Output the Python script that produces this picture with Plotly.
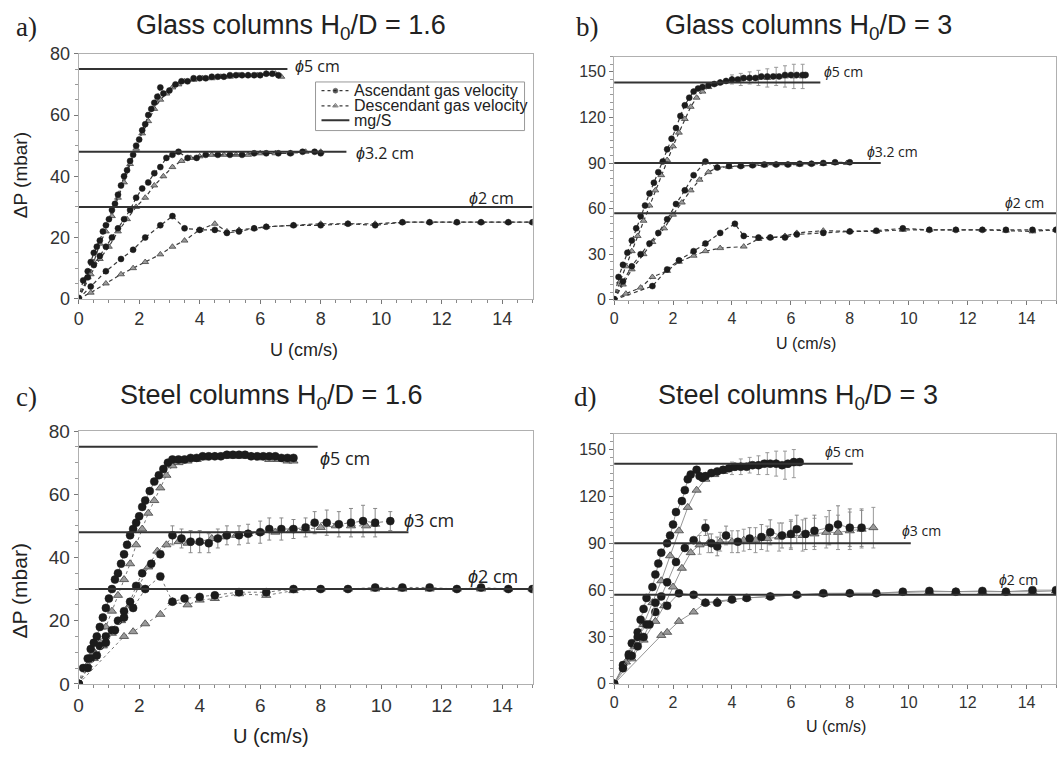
import plotly.graph_objects as go

# ---------------- DATA ----------------
# Panel a) Glass columns H0/D = 1.6
a_d5_up_x = [0,0.15,0.3,0.4,0.5,0.6,0.7,0.8,0.9,1.0,1.1,1.2,1.3,1.4,1.5,1.6,1.7,1.8,1.9,2.0,2.1,2.2,2.3,2.4,2.5,2.6,2.7,2.8,3.0,3.2,3.4,3.6,3.8,4.0,4.2,4.4,4.6,4.8,5.0,5.2,5.4,5.6,5.8,6.0,6.2,6.4,6.6]
a_d5_up_y = [0,6,9,12,15,17,19,22,24,26,29,31,34,37,40,42,45,47,50,52,55,57,60,62,64,66,69,67,68,70,71,71,72,72,72,72.5,72.5,72.5,73,73,73,73,73,73,73.5,73.5,73]
a_d5_dn_x = [0,0.3,0.5,0.7,0.9,1.1,1.3,1.5,1.7,1.9,2.1,2.3,2.5,2.7,2.9,3.1,3.3,3.5,3.8,4.1,4.4,4.7,5.0,5.3,5.6,5.9,6.2,6.5,6.7]
a_d5_dn_y = [0,7,12,18,22,27,33,38,44,49,54,58,62,65,67,69,70,71,71.5,72,72,72.5,72.5,73,73,73,73.5,73.5,72.5]
a_d3_up_x = [0,0.3,0.5,0.7,0.9,1.1,1.3,1.5,1.7,1.9,2.1,2.3,2.5,2.7,2.9,3.1,3.3,3.6,3.9,4.2,4.6,5.0,5.4,5.8,6.2,6.6,7.0,7.4,7.8,8.0]
a_d3_up_y = [0,7,11,14,17,20,23,26,29,33,36,38,41,43,46,47,48,46,46,47,47,47,47,47.5,47.5,47.5,47.5,48,48,47.5]
a_d3_dn_x = [0,0.4,0.7,1.0,1.3,1.6,1.9,2.2,2.5,2.8,3.1,3.4,3.7,4.0,4.4,4.8,5.2,5.6,6.0,6.5,7.0,7.5,8.0]
a_d3_dn_y = [0,8,13,17,22,26,30,33,37,40,43,45,46,46.5,47,47,47,47,47.5,47.5,47.5,48,48]
a_d2_up_x = [0,0.4,0.9,1.4,1.8,2.2,2.7,3.1,3.5,4.0,4.5,4.9,5.3,5.8,6.2,7.1,8.0,8.9,9.8,10.7,11.6,12.5,13.3,14.2,15.0]
a_d2_up_y = [0,4,9,13,16,20,24,27,23,22.5,22.5,21.5,22,23,23.5,24,24,24.5,24,25,25,25,25,25,25]
a_d2_dn_x = [0,0.4,0.9,1.4,1.8,2.2,2.7,3.1,3.5,4.0,4.5,4.9,5.3,5.8,6.2,7.1,8.0,8.9,9.8,10.7,11.6,12.5,13.3,14.2,15.0]
a_d2_dn_y = [0,2,5,8,10,12,14.5,17,19,22.5,24.5,22,22.5,23,23.5,24,24.5,24.5,24.5,25,25,25,25,25,25]
a_mgS = [75, 48, 30]
a_mgS_xend = [6.9, 8.85, 15]

# Panel b) Glass columns H0/D = 3
b_d5_up_x = [0,0.15,0.3,0.45,0.6,0.75,0.9,1.05,1.2,1.35,1.5,1.65,1.8,1.95,2.1,2.25,2.4,2.55,2.7,2.85,3.0,3.2,3.4,3.6,3.8,4.0,4.2,4.4,4.6,4.8,5.0,5.2,5.4,5.6,5.8,6.0,6.2,6.4,6.5]
b_d5_up_y = [0,15,23,31,39,47,55,62,70,77,84,91,99,106,113,121,128,133,137,139,140,141,142,143,144,145,145,146,146,146,147,147,147,147,148,148,148,148,148]
b_d5_dn_x = [0,0.2,0.4,0.6,0.8,1.0,1.2,1.4,1.6,1.8,2.0,2.2,2.4,2.6,2.8,3.0,3.2,3.4,3.6,3.8,4.0,4.3,4.6,4.9,5.2,5.5,5.8,6.1,6.4]
b_d5_dn_y = [0,12,22,32,42,52,62,72,82,92,101,110,119,127,133,137,140,142,143,144,145,145,146,146,146,147,147,147,147]
b_d5_dn_err = [0,0,0,0,0,0,0,0,0,0,0,0,0,0,0,0,0,0,0,0,3,4,4,5,6,6,7,8,8]
b_d3_up_x = [0,0.3,0.6,0.9,1.2,1.5,1.8,2.1,2.4,2.7,3.1,3.5,3.9,4.3,4.7,5.1,5.5,5.9,6.3,6.7,7.1,7.5,8.0]
b_d3_up_y = [0,12,22,30,37,44,53,63,72,82,91,87,88,88,88.5,89,89,89,89.5,89.5,90,90.5,90.5]
b_d3_dn_x = [0,0.3,0.6,1.0,1.3,1.7,2.0,2.3,2.6,2.9,3.2,3.5,3.9,4.3,4.7,5.1,5.5,5.9,6.3,6.7,7.1,7.5,7.9]
b_d3_dn_y = [0,10,20,30,38,47,56,64,72,79,84,87,87.5,88,88.5,88.5,89,89,89,89.5,89.5,90,90]
b_d2_up_x = [0,1.3,1.8,2.2,2.7,3.1,3.6,4.1,4.4,4.9,5.3,5.8,6.2,7.1,8.0,8.9,9.8,10.7,11.6,12.5,13.3,14.2,15]
b_d2_up_y = [0,9,20,26,32,37,44,50,42,41,41,41,43,44,45,45.5,47,46,46,46,46,46,46]
b_d2_dn_x = [0,0.4,0.9,1.3,1.8,2.2,2.7,3.1,3.6,4.4,4.9,5.3,5.8,6.2,7.1,8.0,8.9,9.8,10.7,11.6,12.5,13.3,14.2,15]
b_d2_dn_y = [0,4,8,15,19,25,29,32,34,35,40,41,42,44,45.5,45,45,46,46,46,46,45.5,45,46]
b_mgS = [143, 90, 57]
b_mgS_xend = [7.0, 9.05, 15]

# Panel c) Steel columns H0/D = 1.6
c_d5_up_x = [0,0.15,0.3,0.4,0.5,0.6,0.7,0.8,0.9,1.0,1.1,1.2,1.3,1.4,1.5,1.6,1.7,1.8,1.9,2.0,2.1,2.2,2.35,2.5,2.65,2.8,2.95,3.1,3.3,3.5,3.7,3.9,4.1,4.3,4.5,4.7,4.9,5.1,5.3,5.5,5.7,5.9,6.1,6.3,6.5,6.7,6.9,7.1]
c_d5_up_y = [0,5,8,11,13,15,18,21,24,27,30,33,35,38,41,44,47,49,51,53,56,58,61,64,66,68,70,71,71,71,71.5,71.5,72,72,72,72,72.5,72.5,72.5,72.5,72,72,72,72,72,71.5,71.5,71.5]
c_d5_dn_x = [0,0.3,0.5,0.7,0.9,1.1,1.3,1.5,1.7,1.9,2.1,2.3,2.5,2.7,2.9,3.1,3.3,3.6,3.9,4.2,4.5,4.8,5.1,5.4,5.7,6.0,6.3,6.6,6.9,7.1]
c_d5_dn_y = [0,6,10,13,18,23,28,33,38,44,49,54,58,62,66,69,70,70.5,71,71.5,72,72,72,72,72,71.5,71,71,70.5,70.5]
c_d3_up_x = [0,0.4,0.7,0.9,1.1,1.3,1.5,1.7,1.9,2.1,2.4,2.7,3.1,3.4,3.7,4.0,4.3,4.6,4.9,5.3,5.6,6.0,6.3,6.7,7.1,7.5,7.8,8.2,8.6,9.0,9.4,9.8,10.3]
c_d3_up_y = [0,8,12,15,17,20,23,26,31,35,38,41,47,46,45,45,44.5,46,47,47,47.5,48,49,49,49,49.5,51,51,50.5,51,51.5,51,51.5]
c_d3_up_err = [0,0,0,0,0,0,0,0,0,0,0,0,3,3,3.5,3.5,3,3,3,3,3,3.5,3.5,3.5,3,3,3.5,4,4,4.5,5,4.5,3]
c_d3_dn_x = [0,0.5,0.8,1.1,1.4,1.7,2.0,2.3,2.6,2.9,3.3,3.6,4.0,4.4,4.8,5.2,5.6,6.0,6.5,7.0,7.5,8.0,8.5,9.0,9.5,9.8]
c_d3_dn_y = [0,8,12,16,20,25,31,37,42,44,45,44.5,45,46,46.5,47,47.5,48,48,48.5,49,49.5,50,50,50,50.5]
c_d2_up_x = [0,0.3,0.6,0.9,1.2,1.5,1.8,2.2,2.7,3.1,3.5,4.0,4.5,5.3,6.2,7.1,8.0,8.9,9.8,10.7,11.6,12.5,13.3,14.2,15]
c_d2_up_y = [0,5,9,13,17,21,24,30,34,26,27,27.5,28,29,29,30,30,30,30.5,30.5,30.5,30,30.5,30,30]
c_d2_dn_x = [0,1.5,1.8,2.2,2.7,3.1,3.6,4.0,4.5,5.3,6.2,7.1,8.0,8.9,9.8,10.7,11.6,12.5,13.3,14.2,15]
c_d2_dn_y = [0,15,16.5,19,22,26,25,26.5,27,28.5,28,29.5,30,30,30,30,30,30,30,30,30]
c_mgS = [75, 48, 30]
c_mgS_xend = [7.9, 10.9, 15]

# Panel d) Steel columns H0/D = 3
d_d5_up_x = [0,0.3,0.5,0.6,0.8,0.9,1.0,1.1,1.3,1.4,1.5,1.6,1.8,1.9,2.0,2.1,2.3,2.4,2.5,2.6,2.8,2.9,3.0,3.1,3.3,3.5,3.7,3.9,4.1,4.3,4.5,4.7,4.9,5.1,5.3,5.5,5.7,5.9,6.1,6.3]
d_d5_up_y = [0,12,19,26,33,41,48,55,62,70,77,84,90,95,102,110,117,124,131,134,137,133,132,133,135,136,137,138,139,139,139,140,140,141,141,141,140,141,142,142]
d_d5_dn_x = [0,0.4,0.7,1.0,1.3,1.6,1.9,2.2,2.5,2.8,3.1,3.4,3.7,4.0,4.3,4.6,4.9,5.2,5.5,5.8,6.1]
d_d5_dn_y = [0,14,24,38,52,66,82,98,113,124,131,134,136,138,139,140,140,141,141,140,141]
d_d5_dn_err = [0,0,0,0,0,0,0,0,0,0,0,0,0,4,5,5,6,7,8,9,9]
d_d3_up_x = [0,0.5,0.8,1.1,1.4,1.6,1.8,2.1,2.4,2.7,3.1,3.3,3.5,3.8,4.2,4.6,5.0,5.3,5.7,6.0,6.2,6.5,6.8,7.3,7.6,8.0,8.4]
d_d3_up_y = [0,18,30,38,46,56,65,78,87,92,100,90,88,95,91,93,94,97,95,96,99,96,98,100,102,100,100]
d_d3_up_err = [0,0,0,0,0,0,0,0,0,0,5,6,6,6,7,7,8,8,8,9,9,10,10,11,12,12,12]
d_d3_dn_x = [0,0.6,1.0,1.4,1.7,2.0,2.3,2.6,2.9,3.2,3.6,4.0,4.4,4.8,5.2,5.6,6.0,6.4,6.8,7.2,7.6,8.0,8.4,8.8]
d_d3_dn_y = [0,16,28,40,50,62,74,84,89,90,91,91,92,92,93,94,95,95,96,97,97,98,99,100]
d_d3_dn_err = [0,0,0,0,0,0,0,0,6,6,6,7,7,8,8,9,9,10,10,10,11,12,12,13]
d_d2_up_x = [0,0.3,0.6,0.8,1.0,1.2,1.4,1.8,2.2,2.7,3.1,3.5,4.0,4.5,5.3,6.2,7.1,8.0,8.9,9.8,10.7,11.6,12.5,13.3,14.2,15]
d_d2_up_y = [0,10,18,24,30,38,52,50,58,57,52,52,54,55,56,57,58,58,58,59,59.5,59,59.5,59,60,60]
d_d2_dn_x = [0,1.6,1.8,2.2,2.7,3.1,3.5,4.0,4.5,5.3,6.2,7.1,8.0,8.9,9.8,10.7,11.6,12.5,13.3,14.2,15]
d_d2_dn_y = [0,31,33,40,46,52,53,54,55,56,57,57.5,58,58,58.5,59,59,59,59,59,59.5]
d_mgS = [141, 90, 57]
d_mgS_xend = [8.1, 10.07, 15]

diam_labels_ab = ["5 cm", "3.2 cm", "2 cm"]
diam_labels_cd = ["5 cm", "3 cm", "2 cm"]
panel_titles = ["Glass columns H<sub>0</sub>/D = 1.6", "Glass columns H<sub>0</sub>/D = 3",
                "Steel columns H<sub>0</sub>/D = 1.6", "Steel columns H<sub>0</sub>/D = 3"]
panel_letters = ["a)", "b)", "c)", "d)"]
legend_names = ["Ascendant gas velocity", "Descendant gas velocity", "mg/S"]

# ---------------- FIGURE ----------------
W, H = 1061, 760
def px(x): return x / W
def py(y): return 1 - y / H

fig = go.Figure()
FONT = "Liberation Sans, Arial, sans-serif"
LABFONT = "Open Sans, Liberation Sans, sans-serif"

panels = [
    dict(ax="", xd=[74, 530], yd=[45, 297], yr=[0, 80], dt=20, mdt=5, fs=18, ms=6, style="dash",
         series=[(a_d5_up_x, a_d5_up_y, None, a_d5_dn_x, a_d5_dn_y, None),
                 (a_d3_up_x, a_d3_up_y, None, a_d3_dn_x, a_d3_dn_y, None),
                 (a_d2_up_x, a_d2_up_y, None, a_d2_dn_x, a_d2_dn_y, None)],
         mg=a_mgS, mgx=a_mgS_xend, labs=diam_labels_ab,
         labpos=[(7.1, 76), (9.1, 47.6), (12.85, 33)], labfs=16),
    dict(ax="2", xd=[612, 1056], yd=[48, 298], yr=[0, 160], dt=30, mdt=5, fs=16, ms=6, style="dash",
         series=[(b_d5_up_x, b_d5_up_y, None, b_d5_dn_x, b_d5_dn_y, b_d5_dn_err),
                 (b_d3_up_x, b_d3_up_y, None, b_d3_dn_x, b_d3_dn_y, None),
                 (b_d2_up_x, b_d2_up_y, None, b_d2_dn_x, b_d2_dn_y, None)],
         mg=b_mgS, mgx=b_mgS_xend, labs=diam_labels_ab,
         labpos=[(7.05, 150), (8.5, 97.6), (13.2, 64)], labfs=14),
    dict(ax="3", xd=[74, 530], yd=[433, 693], yr=[0, 80], dt=20, mdt=5, fs=19, ms=8, style="dot",
         series=[(c_d5_up_x, c_d5_up_y, None, c_d5_dn_x, c_d5_dn_y, None),
                 (c_d3_up_x, c_d3_up_y, c_d3_up_err, c_d3_dn_x, c_d3_dn_y, None),
                 (c_d2_up_x, c_d2_up_y, None, c_d2_dn_x, c_d2_dn_y, None)],
         mg=c_mgS, mgx=c_mgS_xend, labs=diam_labels_cd,
         labpos=[(7.9, 71.5), (10.7, 51.7), (12.8, 34)], labfs=18),
    dict(ax="4", xd=[612, 1056], yd=[436, 693], yr=[0, 160], dt=30, mdt=5, fs=16, ms=8, style="solid",
         series=[(d_d5_up_x, d_d5_up_y, None, d_d5_dn_x, d_d5_dn_y, d_d5_dn_err),
                 (d_d3_up_x, d_d3_up_y, d_d3_up_err, d_d3_dn_x, d_d3_dn_y, d_d3_dn_err),
                 (d_d2_up_x, d_d2_up_y, None, d_d2_dn_x, d_d2_dn_y, None)],
         mg=d_mgS, mgx=d_mgS_xend, labs=diam_labels_cd,
         labpos=[(7.1, 148.6), (9.7, 98), (13.0, 67)], labfs=14),
]

DN_MARKER = dict(symbol="triangle-up", color="#9a9a9a", line=dict(color="#444444", width=0.8))
UP_MARKER = dict(symbol="circle", color="#1c1c1c", line=dict(color="#1c1c1c", width=0.5))
MG_LINE = dict(color="#333333", width=2)

annotations = []
for pi, p in enumerate(panels):
    xa, ya = "x" + p["ax"], "y" + p["ax"]
    if p["style"] == "dash":
        lcol, lw, dash = "#3a3a3a", 1.2, "4px,3px"
    elif p["style"] == "dot":
        lcol, lw, dash = "#777777", 1.0, "dot"
    else:
        lcol, lw, dash = "#8a8a8a", 0.9, "solid"
    for si, (ux, uy, ue, dx, dy, de) in enumerate(p["series"]):
        fig.add_trace(go.Scatter(
            x=dx, y=dy, xaxis=xa, yaxis=ya, mode="lines+markers", name=legend_names[1],
            line=dict(color=lcol, width=lw, dash=dash),
            marker=dict(size=p["ms"], **DN_MARKER),
            error_y=dict(type="data", array=de, visible=de is not None,
                         color="#999999", thickness=1, width=2),
        ))
        fig.add_trace(go.Scatter(
            x=ux, y=uy, xaxis=xa, yaxis=ya, mode="lines+markers", name=legend_names[0],
            line=dict(color=lcol, width=lw, dash=dash),
            marker=dict(size=p["ms"], **UP_MARKER),
            error_y=dict(type="data", array=ue, visible=ue is not None,
                         color="#888888", thickness=1, width=2),
        ))
    for m, xe in zip(p["mg"], p["mgx"]):
        fig.add_trace(go.Scatter(
            x=[0, xe], y=[m, m], xaxis=xa, yaxis=ya, mode="lines",
            name=legend_names[2], line=MG_LINE,
        ))
    for lab, (lx, ly) in zip(p["labs"], p["labpos"]):
        annotations.append(dict(
            x=lx, y=ly, xref=xa, yref=ya, text="<i>ϕ</i>" + lab, showarrow=False,
            xanchor="left", yanchor="middle",
            font=dict(family=LABFONT, size=p["labfs"], color="#222")))
    axkw = dict(showline=True, linecolor="#b0b0b0", linewidth=1, mirror=True,
                ticks="outside", tickcolor="#777", ticklen=4, showgrid=False, zeroline=False,
                tickfont=dict(family=FONT, size=p["fs"], color="#333"))
    fig.update_layout(**{
        "xaxis" + p["ax"]: dict(domain=[px(p["xd"][0]), px(p["xd"][1])], range=[0, 15], dtick=2,
                                anchor=ya, minor=dict(dtick=0.5, ticks="outside", ticklen=3, tickcolor="#888"),
                                **axkw),
        "yaxis" + p["ax"]: dict(domain=[py(p["yd"][1]), py(p["yd"][0])], range=p["yr"], dtick=p["dt"],
                                anchor=xa, minor=dict(dtick=p["mdt"], ticks="outside", ticklen=3, tickcolor="#999"),
                                **axkw),
    })

# ---- manual legend (panel a) in a hidden pixel-unit overlay axis ----
LEG = dict(x0=312, x1=522, y0=74, y1=124)
leg_rows = [83, 98.5, 113.5]
fig.update_layout(
    xaxis5=dict(domain=[px(LEG["x0"]), px(LEG["x1"])], range=[LEG["x0"], LEG["x1"]],
                visible=False, fixedrange=True, anchor="y5"),
    yaxis5=dict(domain=[py(LEG["y1"]), py(LEG["y0"])], range=[LEG["y1"], LEG["y0"]],
                visible=False, fixedrange=True, anchor="x5"),
)
leg_styles = [
    dict(mode="lines+markers", line=dict(color="#3a3a3a", width=1.2, dash="3px,3px"), marker=dict(size=5, **UP_MARKER)),
    dict(mode="lines+markers", line=dict(color="#3a3a3a", width=1.2, dash="3px,3px"), marker=dict(size=5, **DN_MARKER)),
    dict(mode="lines", line=MG_LINE),
]
for name, ry, st in zip(legend_names, leg_rows, leg_styles):
    xs = [318, 332, 346] if st["mode"] != "lines" else [318, 346]
    mk = st.get("marker")
    fig.add_trace(go.Scatter(x=xs, y=[ry] * len(xs), xaxis="x5", yaxis="y5", mode=st["mode"],
                             line=st["line"], hoverinfo="skip",
                             marker=(dict(mk, size=[0, mk["size"], 0]) if mk else None)))
    annotations.append(dict(x=349, y=ry, xref="x5", yref="y5", text=name, showarrow=False,
                            xanchor="left", yanchor="middle",
                            font=dict(family=FONT, size=16, color="#222")))

shapes = [dict(type="rect", xref="paper", yref="paper",
               x0=px(LEG["x0"]), x1=px(LEG["x1"]), y0=py(LEG["y1"]), y1=py(LEG["y0"]),
               line=dict(color="#999", width=1), fillcolor="rgba(255,255,255,0)", layer="above")]

# Titles and letters
title_pos = [(287, 17), (807, 17), (267, 398), (797, 398)]
letter_pos = [(22, 17), (585, 17), (22, 398), (583, 398)]
for t, (tx, ty), l, (lx, ly) in zip(panel_titles, title_pos, panel_letters, letter_pos):
    annotations.append(dict(x=px(tx), y=py(ty), xref="paper", yref="paper", text=t, showarrow=False,
                            xanchor="center", yanchor="middle",
                            font=dict(family=FONT, size=27, color="#222")))
    annotations.append(dict(x=px(lx), y=py(ly), xref="paper", yref="paper", text=l, showarrow=False,
                            xanchor="center", yanchor="middle",
                            font=dict(family="Liberation Serif, Times New Roman, serif", size=27, color="#222")))

# Axis titles
xlab_pos = [(300, 350, 18), (805, 343, 16), (267, 747, 20), (835, 737, 16)]
for (x, y, s) in xlab_pos:
    annotations.append(dict(x=px(x), y=py(y), xref="paper", yref="paper", text="U (cm/s)", showarrow=False,
                            xanchor="center", yanchor="middle", font=dict(family=FONT, size=s, color="#222")))
for (x, y, s) in [(15, 170, 19), (15, 597, 21)]:
    annotations.append(dict(x=px(x), y=py(y), xref="paper", yref="paper", text="ΔP (mbar)", showarrow=False,
                            textangle=-90, xanchor="center", yanchor="middle",
                            font=dict(family=FONT, size=s, color="#222")))

fig.update_layout(
    width=W, height=H, margin=dict(l=0, r=0, t=0, b=0),
    paper_bgcolor="white", plot_bgcolor="white",
    annotations=annotations, shapes=shapes, showlegend=False,
)

fig.write_html("out.html", config={"displayModeBar": False},
               post_script="document.body.style.margin='0px';")
